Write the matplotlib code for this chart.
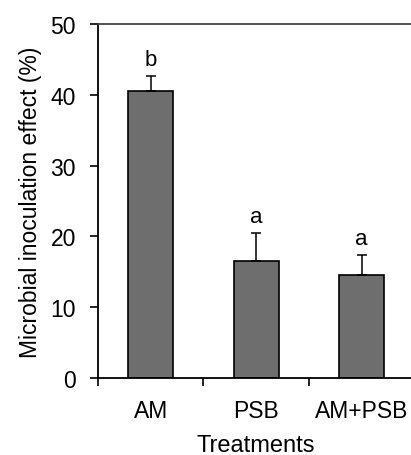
# libraries
import numpy as np
import matplotlib.pyplot as plt

# data
treatments = ['AM', 'PSB', 'AM+PSB']
effect = [40.5, 16.5, 14.5]
err_up = [2.2, 4.0, 2.9]
letters = ['b', 'a', 'a']

plt.rcParams['font.family'] = ['Liberation Sans', 'DejaVu Sans']

fig = plt.figure(figsize=(4.11, 4.56), dpi=100)
# axes runs a little past the right edge, like the cropped original
ax = fig.add_axes([0.2384, 0.1689, 0.770, 0.7763])

x = np.arange(len(treatments))
ax.bar(x, effect, width=0.43, color='#6e6e6e', edgecolor='black', linewidth=1.2, zorder=2)
ax.errorbar(x, effect, yerr=[np.zeros(len(x)), err_up], fmt='none', ecolor='black',
            elinewidth=1.1, capsize=3.5, capthick=1.1, zorder=3)

for xi, v, e, lab in zip(x, effect, err_up, letters):
    ax.text(xi, v + e + 0.8, lab, ha='center', va='bottom', fontsize=16)

ax.set_xlim(-0.5, 2.5)
ax.set_ylim(0, 50)
ax.set_yticks([0, 10, 20, 30, 40, 50])
ax.set_xticks(x)
ax.set_xticklabels(treatments, fontsize=16.5)
ax.tick_params(axis='x', length=0, pad=15)
ax.set_xticks([-0.5, 0.5, 1.5, 2.5], minor=True)
ax.tick_params(axis='x', which='minor', direction='out', length=6, width=1.2)
ax.tick_params(axis='y', direction='out', length=6, width=1.2, labelsize=16.5, pad=10)

ax.spines['right'].set_visible(False)
for s in ['left', 'bottom', 'top']:
    ax.spines[s].set_linewidth(1.3)
ax.spines['top'].set_color('#444444')

ax.set_ylabel('Microbial inoculation effect (%)', fontsize=16.5, labelpad=6)
ax.set_xlabel('Treatments', fontsize=17, labelpad=9)

plt.savefig('out.png', dpi=100)
